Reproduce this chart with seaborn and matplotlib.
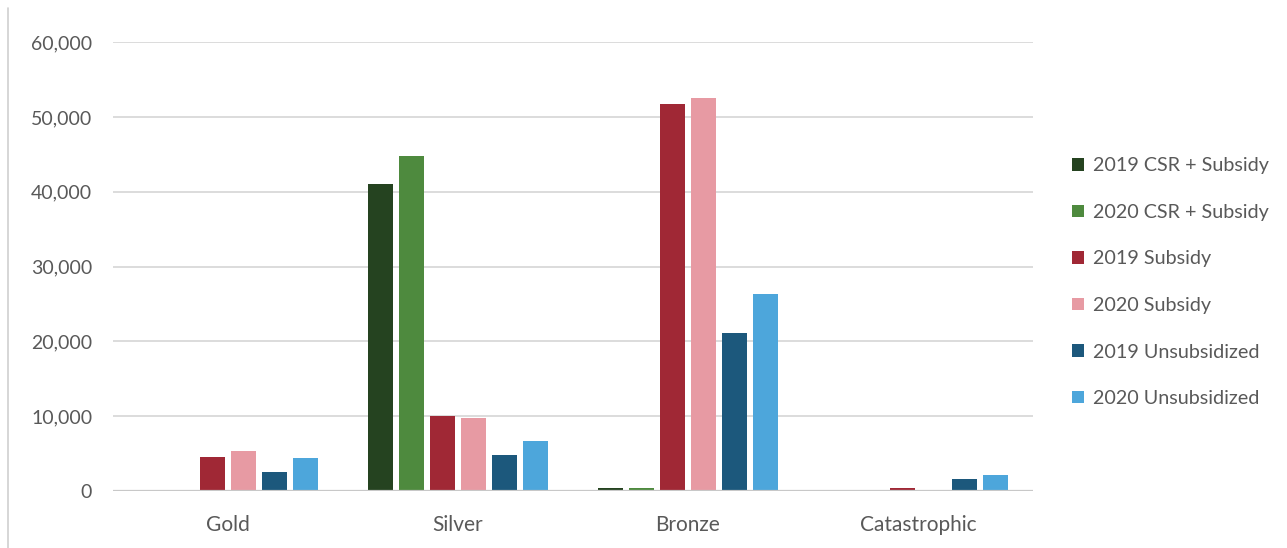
import matplotlib
matplotlib.use("Agg")
import matplotlib.pyplot as plt
from matplotlib.lines import Line2D
from matplotlib.ticker import FuncFormatter
import seaborn as sns
import pandas as pd

# Enrollment by metal tier and subsidy status
tiers = ["Gold", "Silver", "Bronze", "Catastrophic"]
series = ["2019 CSR + Subsidy", "2020 CSR + Subsidy", "2019 Subsidy",
          "2020 Subsidy", "2019 Unsubsidized", "2020 Unsubsidized"]
csr_2019 = [0, 41000, 400, 0]
csr_2020 = [0, 44800, 400, 0]
sub_2019 = [4600, 10000, 51800, 400]
sub_2020 = [5300, 9700, 52600, 0]
unsub_2019 = [2600, 4800, 21100, 1600]
unsub_2020 = [4400, 6700, 26300, 2200]
colors = ["#254320", "#4e8a3e", "#a02835", "#e79aa3", "#1c587c", "#4da6db"]
yticks = [0, 10000, 20000, 30000, 40000, 50000, 60000]

values = [csr_2019, csr_2020, sub_2019, sub_2020, unsub_2019, unsub_2020]
rows = []
for name, vals in zip(series, values):
    for tier, v in zip(tiers, vals):
        rows.append({"tier": tier, "series": name, "value": v})
df = pd.DataFrame(rows)

sns.set_style("white")
plt.rcParams["font.family"] = ["Lato", "DejaVu Sans"]

fig = plt.figure(figsize=(12.87, 5.48), dpi=100)
ax = fig.add_axes([0.0878, 0.104, 0.7148, 0.819])

sns.barplot(data=df, x="tier", y="value", hue="series", order=tiers,
            hue_order=series, palette=colors, saturation=1, width=0.81,
            gap=0.2, linewidth=0, errorbar=None, ax=ax, zorder=3)

ax.set_xlim(-0.5, 3.5)
ax.set_ylim(0, 60000)
ax.set_yticks(yticks)
ax.yaxis.set_major_formatter(FuncFormatter(lambda v, p: f"{int(v):,}"))
ax.grid(axis="y", color="#d9d9d9", linewidth=1.3, zorder=0)
ax.axhline(0, color="#c8c8c8", linewidth=1.6, zorder=4)
for s in ax.spines.values():
    s.set_visible(False)
ax.tick_params(axis="both", length=0, labelcolor="#595959")
ax.tick_params(axis="y", pad=15, labelsize=14)
ax.tick_params(axis="x", pad=17, labelsize=15)
ax.set_xlabel("")
ax.set_ylabel("")

handles, labels = ax.get_legend_handles_labels()
leg = ax.legend(handles, labels, loc="center left",
                bbox_to_anchor=(0.819, 0.485), bbox_transform=fig.transFigure,
                frameon=False, fontsize=14.2, labelcolor="#595959",
                handlelength=0.6, handleheight=0.6, handletextpad=0.45,
                labelspacing=1.5)

# chart area border on the left
fig.add_artist(Line2D([0.0065, 0.0065], [0.0, 0.985], color="#d0d0d0",
                      linewidth=1.2, transform=fig.transFigure))

fig.savefig("out.png", dpi=100, facecolor="white")
